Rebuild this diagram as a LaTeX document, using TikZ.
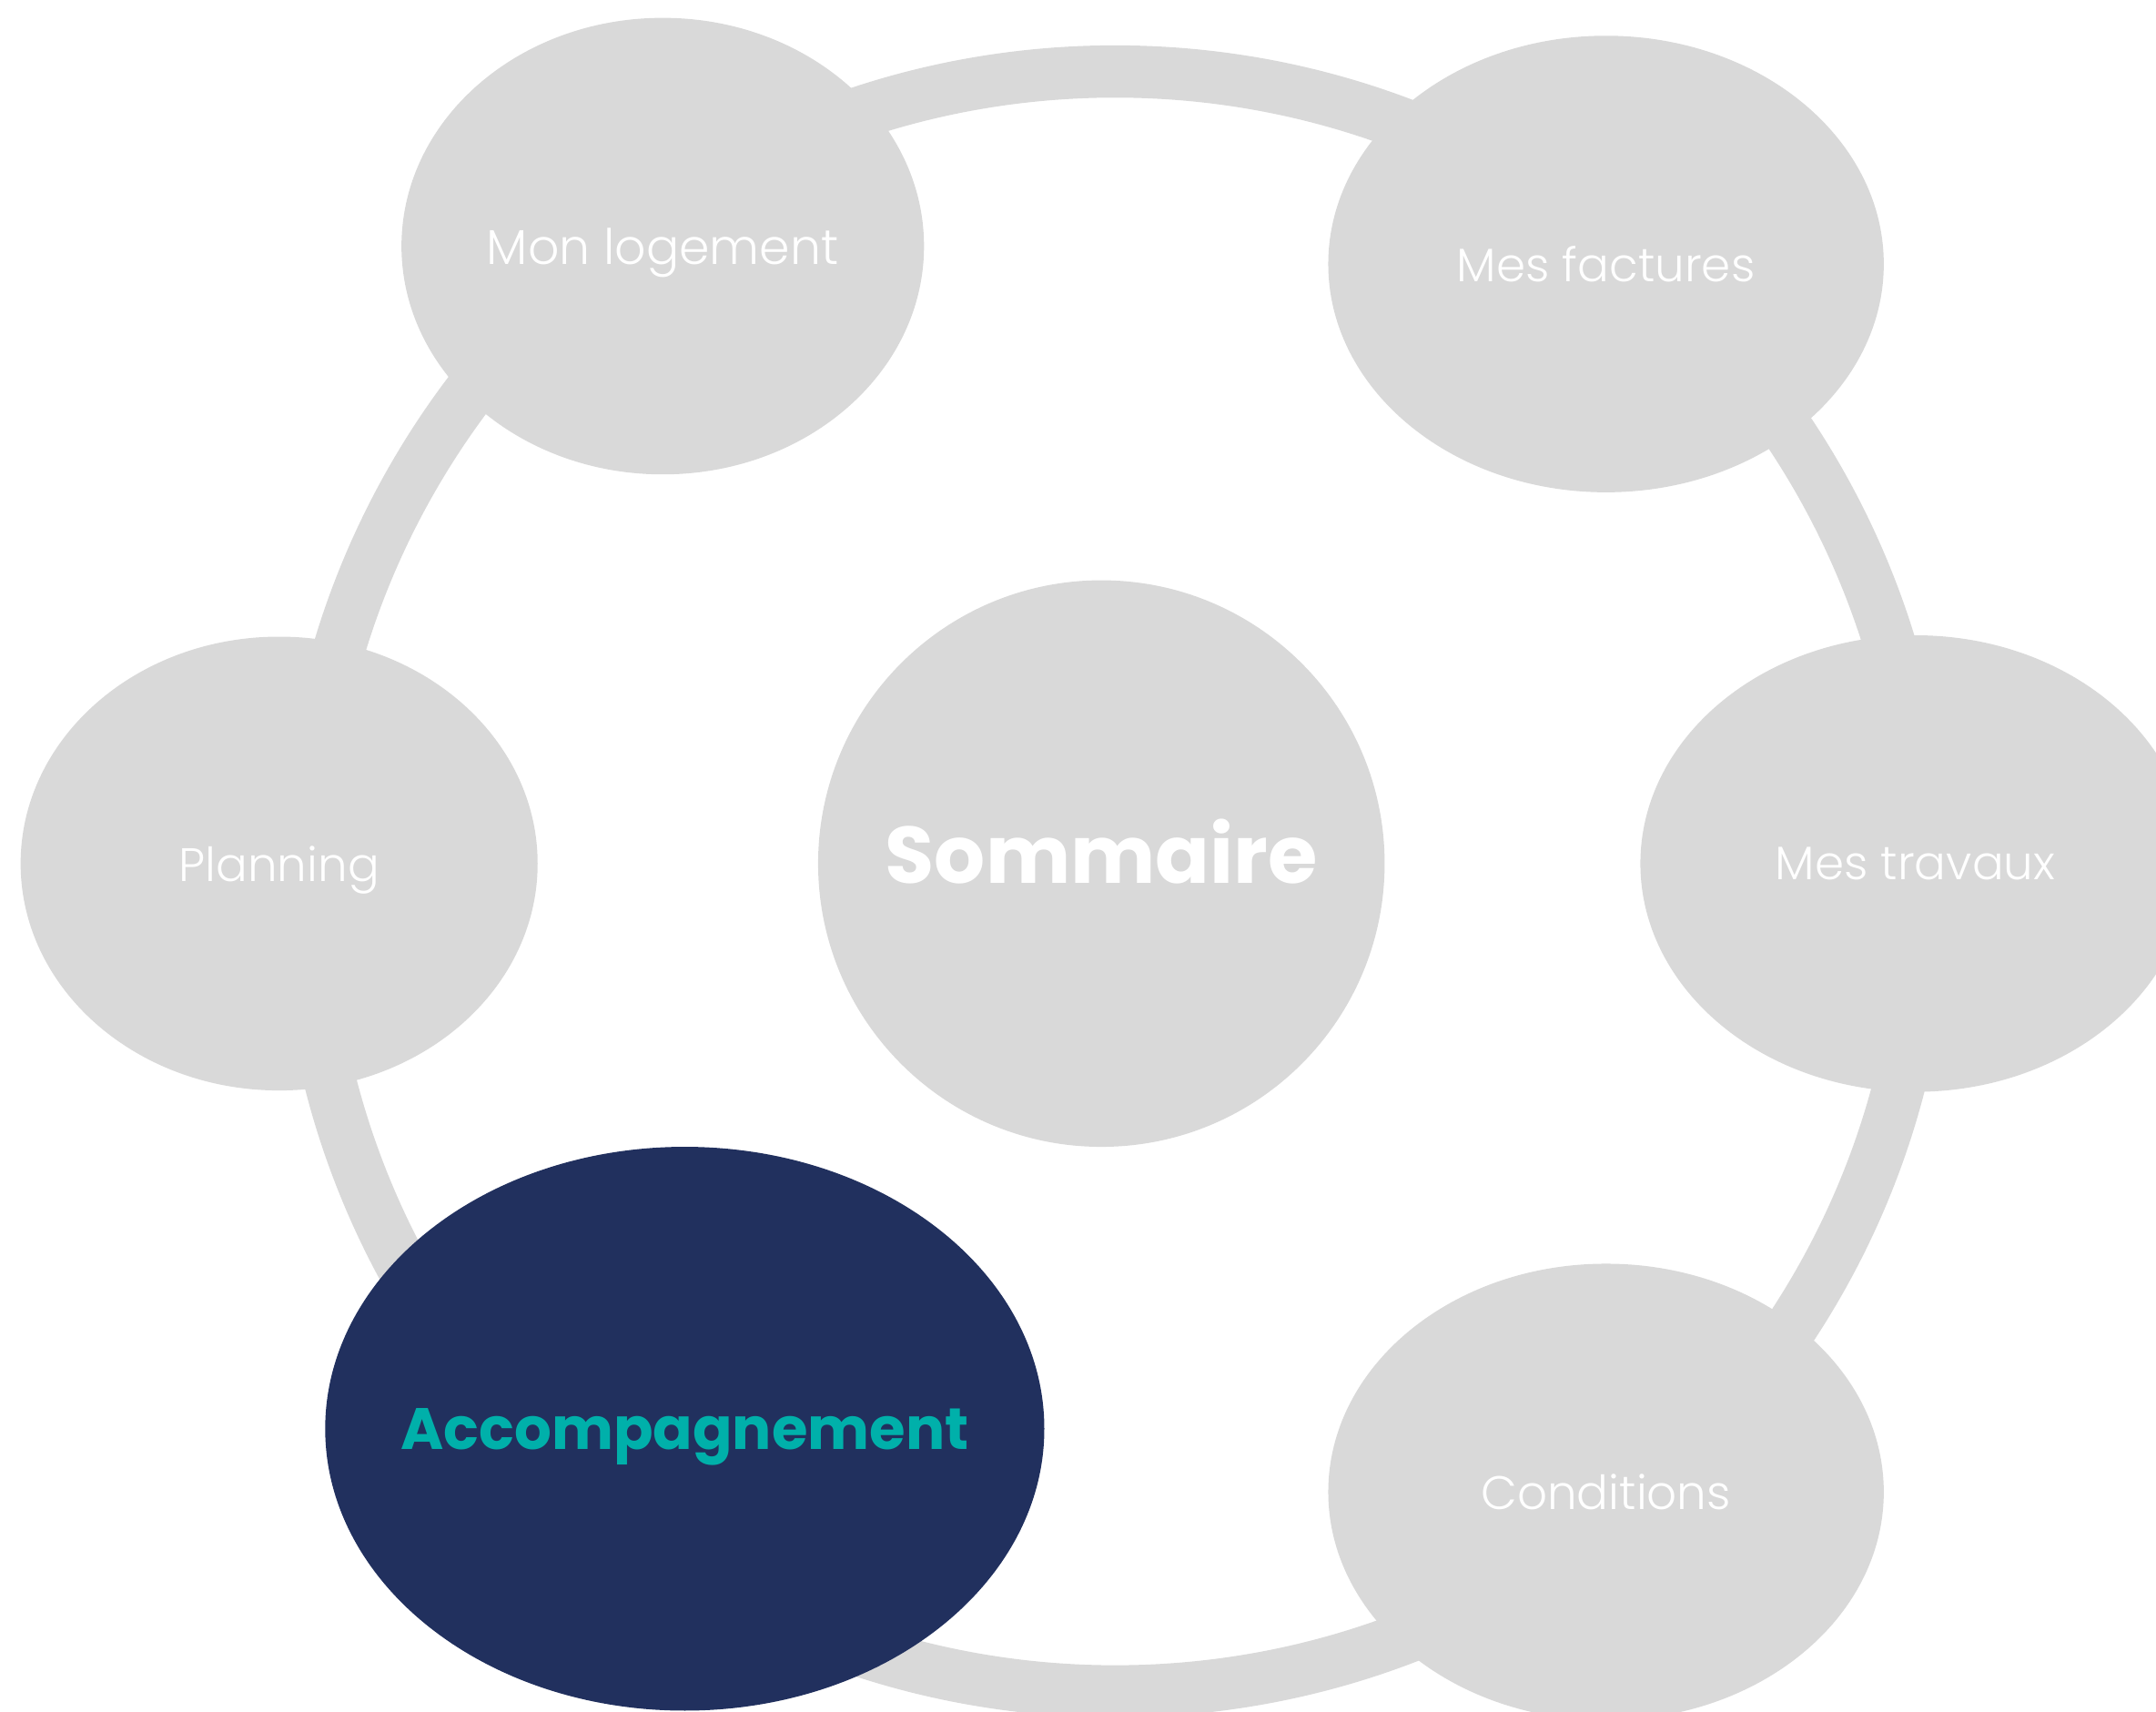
\documentclass[tikz,border=0pt]{standalone}
\usepackage{fontspec}
\setmainfont{Poppins}
\IfFontExistsTF{Poppins Light}{\newfontfamily\lightfont{Poppins Light}}{\newfontfamily\lightfont{Poppins}}
\usepackage{xcolor}
\usetikzlibrary{shapes.geometric}
\definecolor{ringgrey}{HTML}{D9D9D9}
\definecolor{navyblue}{HTML}{21305E}
\definecolor{turquoise}{HTML}{00B0AA}
\tikzset{%
  ring/.style={draw=ringgrey,line width=9.5mm},
  bubble/.style={ellipse,fill=ringgrey,draw=none,inner sep=0pt,text depth=0pt,text=white,font=\lightfont\fontsize{24.3}{28}\selectfont}
}
\tikzset{%
  hubbubble/.style={circle,fill=ringgrey,draw=none,inner sep=0pt,minimum size=103mm,text depth=0pt,text=white,font=\fontsize{41.5}{48}\selectfont\bfseries}
}
\tikzset{%
  activebubble/.style={ellipse,fill=navyblue,draw=none,inner sep=0pt,text depth=0pt,text=turquoise,font=\fontsize{30.2}{36}\selectfont\bfseries}
}
\newcommand{\nowidth}[1]{\makebox[0pt]{#1}}

\begin{document}
\begin{tikzpicture}[x=0.25mm,y=-0.25mm]
    \useasboundingbox (0,0) rectangle (1568,1245);
    \clip (0,0) rectangle (1568,1245);
    \coordinate (hub) at (811,641);
    \draw[ring] (hub) circle[radius=589];

    \node[hubbubble](sommaire) at (801,628){\raisebox{4.5mm}{\nowidth{Sommaire}}};

    \node[bubble,minimum width=95mm,minimum height=83mm,font=\lightfont\fontsize{25.3}{29}\selectfont](logement) at (482,179){\nowidth{Mon logement}};
    \node[bubble,minimum width=101mm,minimum height=83mm](factures) at (1168,192){\nowidth{Mes factures}};
    \node[bubble,minimum width=94mm,minimum height=82.5mm](planning) at (203,628){\nowidth{Planning}};
    \node[bubble,minimum width=100mm,minimum height=83mm](travaux) at (1393,628){\nowidth{Mes travaux}};
    \node[bubble,minimum width=101mm,minimum height=83mm](conditions) at (1168,1085){\nowidth{Conditions}};

    \node[activebubble,minimum width=130.75mm,minimum height=102.5mm](accomp) at (498,1039){\nowidth{Accompagnement}};
\end{tikzpicture}
\end{document}
